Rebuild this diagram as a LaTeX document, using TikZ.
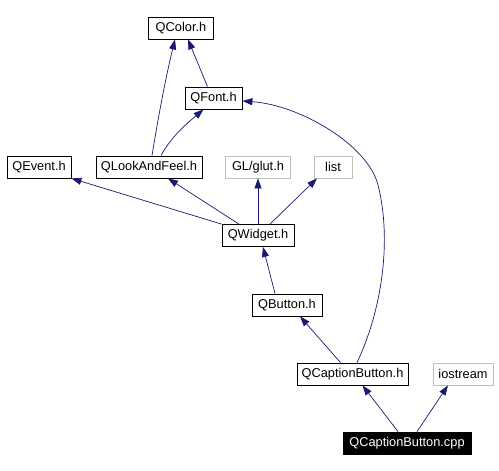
\documentclass[tikz,border=0pt]{standalone}
\usepackage{fontspec}
\setmainfont{Liberation Sans}
\usetikzlibrary{arrows.meta}
\definecolor{edgeblue}{HTML}{191970}
\definecolor{extgray}{HTML}{BFBFBF}
\tikzset{
  hdr/.style={draw=black,line width=0.8pt,minimum height=22pt,inner xsep=3pt,
    font=\fontsize{12.8}{15}\selectfont},
  exthdr/.style={hdr,draw=extgray},
  srcfile/.style={hdr,fill=black,text=white},
  dep/.style={draw=edgeblue,line width=0.7pt,-{Triangle[length=10pt,width=7pt]}}
}
\begin{document}
\begin{tikzpicture}[x=1pt,y=-1pt]
\useasboundingbox (0,0) rectangle (499,471);
% headers, top to bottom
\node[hdr,minimum width=65pt] (qcol) at (181,28) {QColor.h};
\node[hdr,minimum width=57pt] (qfont) at (213.5,98) {QFont.h};
\node[hdr,minimum width=64pt] (qevt) at (39,167) {QEvent.h};
\node[hdr,minimum width=106pt] (qlaf) at (149,167) {QLookAndFeel.h};
\node[exthdr,minimum width=65pt] (glut) at (258,167) {GL/glut.h};
\node[exthdr,minimum width=38pt] (list) at (333,167) {list};
\node[hdr,minimum width=72pt] (qwid) at (258,235.5) {QWidget.h};
\node[hdr,minimum width=70pt] (qbtn) at (287,305) {QButton.h};
\node[hdr,minimum width=111pt] (caph) at (352.5,374) {QCaptionButton.h};
\node[exthdr,minimum width=60pt] (iost) at (463,374) {iostream};
\node[srcfile,minimum width=128pt] (cppf) at (407,443) {QCaptionButton.cpp};
% includes
\draw[dep] ([xshift=-9pt]cppf.north) -- ([xshift=10pt]caph.south);
\draw[dep] ([xshift=10pt]cppf.north) -- ([xshift=-15pt]iost.south);
\draw[dep] ([xshift=-12pt]caph.north) -- ([xshift=13pt]qbtn.south);
\draw[dep] ([xshift=4.5pt]caph.north)
  .. controls (382,310) and (392,240) .. (378,185)
  .. controls (368,145) and (300,105) .. ([yshift=-3pt]qfont.east);
\draw[dep] ([xshift=-12pt]qbtn.north) -- ([xshift=5pt]qwid.south);
\draw[dep] (qwid.north west) -- (qevt.south east);
\draw[dep] ([xshift=-19pt]qwid.north) -- ([xshift=19pt]qlaf.south);
\draw[dep] (qwid.north) -- (glut.south);
\draw[dep] ([xshift=12pt]qwid.north) -- ([xshift=-16pt]list.south);
\draw[dep] ([xshift=3pt]qlaf.north) .. controls (159,112) and (167,72) .. ([xshift=-6pt]qcol.south);
\draw[dep] ([xshift=12pt]qlaf.north) .. controls (172,135) and (190,121) .. ([xshift=-10pt]qfont.south);
\draw[dep] ([xshift=-6pt]qfont.north) -- ([xshift=7pt]qcol.south);
\end{tikzpicture}
\end{document}
